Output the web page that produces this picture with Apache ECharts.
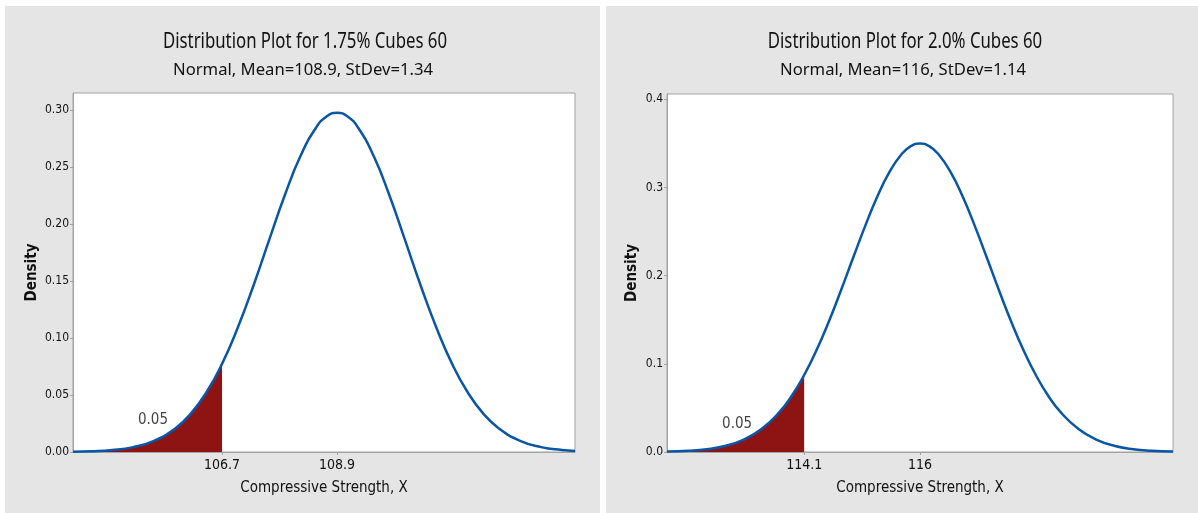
<!DOCTYPE html>
<html>
<head>
<meta charset="utf-8">
<script src="https://cdn.jsdelivr.net/npm/echarts@6/dist/echarts.min.js"></script>
<style>
  html, body { margin: 0; padding: 0; background: #ffffff; }
  .panel { position: absolute; top: 6px; height: 507px; background: #e5e5e5; }
  #left { left: 5px; width: 595px; }
  #right { left: 606px; width: 592px; }
</style>
</head>
<body>
<div id="left" class="panel"></div>
<div id="right" class="panel"></div>
<script>
// 1.75% cubes: x values and density
const leftX = [103.85, 104.2, 104.6, 105.0, 105.4, 105.8, 106.1, 106.4, 106.7, 107.0, 107.3, 107.6, 107.9, 108.2, 108.5, 108.7, 108.9,
  109.1, 109.3, 109.6, 109.9, 110.2, 110.5, 110.8, 111.1, 111.4, 111.7, 112.0, 112.4, 112.8, 113.2, 113.45];
const leftDensity = [0.0002, 0.0006, 0.0017, 0.0043, 0.0098, 0.0205, 0.0335, 0.0522, 0.0773, 0.1090, 0.1459, 0.1859, 0.2253, 0.2597, 0.2847, 0.2944, 0.2977,
  0.2944, 0.2847, 0.2597, 0.2253, 0.1859, 0.1459, 0.1090, 0.0773, 0.0522, 0.0335, 0.0205, 0.0098, 0.0043, 0.0017, 0.0009];
const leftCut = 106.7;
const leftMean = 108.9;
const leftYTicks = [0, 0.05, 0.10, 0.15, 0.20, 0.25, 0.30];

// 2.0% cubes
const rightX = [111.85, 112.2, 112.5, 112.8, 113.1, 113.4, 113.7, 113.9, 114.1, 114.3, 114.5, 114.7, 114.9, 115.1, 115.3, 115.5, 115.7, 115.85, 116.0,
  116.15, 116.3, 116.5, 116.7, 116.9, 117.1, 117.3, 117.5, 117.7, 117.9, 118.1, 118.3, 118.6, 118.9, 119.2, 119.5, 119.8, 120.15];
const rightDensity = [0.0005, 0.0014, 0.0031, 0.0068, 0.0138, 0.0260, 0.0457, 0.0641, 0.0873, 0.1151, 0.1472, 0.1826, 0.2197, 0.2562, 0.2898, 0.3178, 0.3380, 0.3469, 0.3499,
  0.3469, 0.3380, 0.3178, 0.2898, 0.2562, 0.2197, 0.1826, 0.1472, 0.1151, 0.0873, 0.0641, 0.0457, 0.0260, 0.0138, 0.0068, 0.0031, 0.0014, 0.0005];
const rightCut = 114.1;
const rightMean = 116;
const rightYTicks = [0, 0.1, 0.2, 0.3, 0.4];

const tailArea = "0.05";

const FONT = "'Liberation Sans Narrow', 'DejaVu Sans Condensed', sans-serif";
const TITLE_FONT = "'Noto Sans', 'Open Sans', sans-serif";
const BLUE = "#0a56a6";
const RED = "#8e1414";
const FRAME = "#a3a3a3";

// the original titles are drawn in a squeezed face, so squeeze ours to the same width
const measure = (text, font) => {
  const ctx = document.createElement("canvas").getContext("2d");
  ctx.font = font;
  return ctx.measureText(text).width;
};
const titleFont = "21px " + TITLE_FONT;
const subFont = "17px " + TITLE_FONT;
const titleScale = 284 / measure("Distribution Plot for 1.75% Cubes 60", titleFont);
const subScale = 260 / measure("Normal, Mean=108.9, StDev=1.34", subFont);

const makeOption = (cfg) => {
  const curve = cfg.xs.map((x, i) => [x, cfg.ys[i]]);
  const shaded = curve.filter(p => p[0] <= cfg.cut);
  return {
    animation: false,
    graphic: [
      {type: "text", x: cfg.titleX, y: 36, scaleX: titleScale,
        style: {text: cfg.title, font: titleFont, fill: "#111", align: "center", verticalAlign: "middle"}},
      {type: "text", x: cfg.titleX - 2, y: 64, scaleX: subScale,
        style: {text: cfg.subtitle, font: subFont, fill: "#111", align: "center", verticalAlign: "middle"}},
    ],
    grid: {
      left: cfg.gridLeft, right: 25, top: cfg.gridTop, bottom: 61,
      show: true, backgroundColor: "#fff", borderColor: FRAME, borderWidth: 1,
    },
    xAxis: {
      type: "value",
      min: cfg.xs[0],
      max: cfg.xs[cfg.xs.length - 1],
      name: "Compressive Strength, X",
      nameLocation: "middle",
      nameGap: 29,
      nameMoveOverlap: false,
      nameTextStyle: {fontFamily: FONT, fontSize: 15, color: "#111"},
      axisLine: {show: true, lineStyle: {color: FRAME}},
      axisTick: {show: true, length: 3, lineStyle: {color: FRAME}, customValues: [cfg.cut, cfg.mean]},
      axisLabel: {customValues: [cfg.cut, cfg.mean], margin: 6, fontFamily: FONT, fontSize: 14, color: "#111",
        formatter: v => String(v)},
      splitLine: {show: false},
    },
    yAxis: {
      type: "value",
      min: 0,
      max: cfg.yMax,
      name: "Density",
      nameLocation: "middle",
      nameGap: cfg.nameGap,
      nameMoveOverlap: false,
      nameTextStyle: {fontFamily: FONT, fontSize: 15, fontWeight: "bold", color: "#111"},
      axisLine: {show: true, lineStyle: {color: FRAME}},
      axisTick: {show: true, length: 3, lineStyle: {color: FRAME}, customValues: cfg.yTicks},
      axisLabel: {customValues: cfg.yTicks, margin: 4, fontFamily: FONT, fontSize: 12, color: "#111",
        formatter: v => v.toFixed(cfg.digits)},
      splitLine: {show: false},
    },
    series: [
      {
        type: "line",
        data: shaded,
        smooth: true,
        showSymbol: false,
        lineStyle: {width: 0},
        areaStyle: {color: RED, opacity: 1},
        z: 2,
      },
      {
        type: "line",
        data: curve,
        smooth: true,
        showSymbol: false,
        lineStyle: {color: BLUE, width: 2.5},
        z: 3,
      },
      {
        type: "scatter",
        data: [cfg.labelAt],
        symbolSize: 0,
        label: {show: true, position: "inside", formatter: tailArea, fontFamily: FONT, fontSize: 15, color: "#111"},
        z: 4,
      },
    ],
  };
};

const leftChart = echarts.init(document.getElementById("left"));
leftChart.setOption(makeOption({
  title: "Distribution Plot for 1.75% Cubes 60",
  subtitle: "Normal, Mean=108.9, StDev=1.34",
  xs: leftX, ys: leftDensity, cut: leftCut, mean: leftMean,
  yMax: 0.315, yTicks: leftYTicks, digits: 2,
  gridLeft: 68, gridTop: 87, nameGap: 33, titleX: 300,
  labelAt: [105.38, 0.028],
}));

const rightChart = echarts.init(document.getElementById("right"));
rightChart.setOption(makeOption({
  title: "Distribution Plot for 2.0% Cubes 60",
  subtitle: "Normal, Mean=116, StDev=1.14",
  xs: rightX, ys: rightDensity, cut: rightCut, mean: rightMean,
  yMax: 0.406, yTicks: rightYTicks, digits: 1,
  gridLeft: 61, gridTop: 88, nameGap: 27, titleX: 299,
  labelAt: [113.0, 0.032],
}));
</script>
</body>
</html>
